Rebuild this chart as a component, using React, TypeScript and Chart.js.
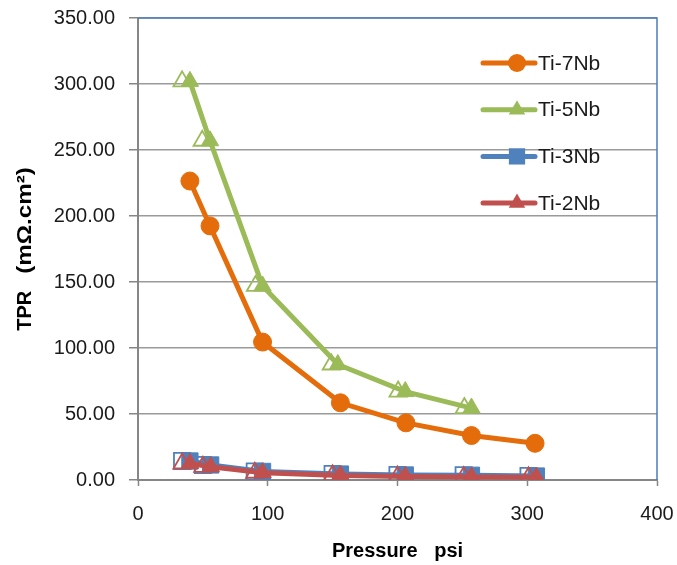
import React, { useEffect, useRef } from 'react';
import { Chart, registerables } from 'chart.js';

Chart.register(...registerables);

const FONT = "'Liberation Sans', Arial, sans-serif";

// ---- data ----
const seriesNames = ['Ti-7Nb', 'Ti-5Nb', 'Ti-3Nb', 'Ti-2Nb'];

const ti7NbPressure = [40, 55.5, 96, 156, 206.5, 257, 306];
const ti7NbTPR = [226.5, 192.5, 104.5, 58.5, 43.3, 33.7, 27.8];

const ti5NbPressure = [40, 55.5, 96, 154, 206, 257];
const ti5NbTPR = [302, 257, 147, 87.5, 67, 54.5];
const ti5NbOpenPressure = [34, 49.5, 90.5, 149, 200.5, 251.5];
const ti5NbOpenTPR = [302, 257, 147, 87.5, 67, 54.5];

const ti3NbPressure = [40, 56, 96, 156, 206, 257, 307];
const ti3NbTPR = [14.4, 11.4, 6.5, 4.5, 3.8, 3.6, 3.0];
const ti3NbOpenPressure = [34, 50, 90, 150, 200, 251, 301];
const ti3NbOpenTPR = [14.4, 11.4, 6.5, 4.5, 3.8, 3.6, 3.0];

const ti2NbPressure = [40, 56, 96, 156, 206, 257, 307];
const ti2NbTPR = [12.5, 10, 5.5, 3.5, 2.6, 2.3, 2.0];
const ti2NbOpenPressure = [34, 50, 90, 150, 200, 251, 301];
const ti2NbOpenTPR = [12.5, 10, 5.5, 3.5, 2.6, 2.3, 2.0];

const xTickValues = [0, 100, 200, 300, 400];
const yTickValues = [0, 50, 100, 150, 200, 250, 300, 350];

const xTitle = 'Pressure   psi';
const yTitleMain = 'TPR';
const yTitleUnit = '(mΩ.cm²)';

const ORANGE = '#E46C0A';
const GREEN = '#9BBB59';
const BLUE = '#4F81BD';
const RED = '#C0504D';

function pts(xs: number[], ys: number[]) {
  return xs.map((x, i) => ({ x, y: ys[i] }));
}

function drawMarker(ctx: CanvasRenderingContext2D, style: string, x: number, y: number, r: number, color: string) {
  ctx.beginPath();
  if (style === 'circle') {
    ctx.arc(x, y, r, 0, Math.PI * 2);
  } else if (style === 'triangle') {
    for (let k = 0; k < 3; k++) {
      const a = -Math.PI / 2 + (k * 2 * Math.PI) / 3;
      const px = x + Math.cos(a) * r;
      const py = y + Math.sin(a) * r;
      if (k === 0) ctx.moveTo(px, py);
      else ctx.lineTo(px, py);
    }
    ctx.closePath();
  } else {
    const s = r * Math.SQRT1_2;
    ctx.rect(x - s, y - s, 2 * s, 2 * s);
  }
  ctx.fillStyle = color;
  ctx.fill();
}

const insideLegend = {
  id: 'insideLegend',
  afterDatasetsDraw(chart: any) {
    const { ctx, chartArea } = chart;
    const items = chart.data.datasets.filter((d: any) => d.legendLabel);
    items.forEach((ds: any, i: number) => {
      const y = chartArea.top + 45 + i * 46.7;
      const x0 = chartArea.right - 174;
      const x1 = chartArea.right - 122;
      const mx = chartArea.right - 140;
      ctx.save();
      ctx.strokeStyle = ds.borderColor;
      ctx.lineWidth = 5;
      ctx.lineCap = 'round';
      ctx.beginPath();
      ctx.moveTo(x0, y);
      ctx.lineTo(x1, y);
      ctx.stroke();
      drawMarker(ctx, ds.pointStyle, mx, y, ds.legendMarker, ds.pointBackgroundColor);
      ctx.fillStyle = '#1a1a1a';
      ctx.font = `21px ${FONT}`;
      ctx.textAlign = 'left';
      ctx.textBaseline = 'middle';
      ctx.fillText(ds.legendLabel, chartArea.right - 119, y + 1);
      ctx.restore();
    });
  },
};

const plotBorder = {
  id: 'plotBorder',
  afterDraw(chart: any) {
    const { ctx, chartArea } = chart;
    ctx.save();
    ctx.strokeStyle = '#4A7EBB';
    ctx.lineWidth = 1.5;
    ctx.beginPath();
    ctx.moveTo(chartArea.left, chartArea.top);
    ctx.lineTo(chartArea.right, chartArea.top);
    ctx.lineTo(chartArea.right, chartArea.bottom);
    ctx.stroke();
    ctx.restore();
  },
};

const yAxisTitle = {
  id: 'yAxisTitle',
  afterDraw(chart: any) {
    const { ctx, chartArea } = chart;
    const cy = (chartArea.top + chartArea.bottom) / 2;
    ctx.save();
    ctx.translate(31, cy);
    ctx.rotate(-Math.PI / 2);
    ctx.fillStyle = '#000';
    ctx.textBaseline = 'alphabetic';
    ctx.textAlign = 'left';
    ctx.font = `bold 20px ${FONT}`;
    const w1 = ctx.measureText(yTitleMain).width;
    ctx.font = `bold 21px ${FONT}`;
    const sx = 1.15;
    const w2 = ctx.measureText(yTitleUnit).width * sx;
    const gap = 17;
    const total = w1 + gap + w2;
    const start = -total / 2;
    ctx.font = `bold 20px ${FONT}`;
    ctx.fillText(yTitleMain, start, 0);
    ctx.font = `bold 21px ${FONT}`;
    ctx.translate(start + w1 + gap, 0);
    ctx.scale(sx, 1);
    ctx.fillText(yTitleUnit, 0, 0);
    ctx.restore();
  },
};

export default function App() {
  const ref = useRef<HTMLCanvasElement | null>(null);

  useEffect(() => {
    if (!ref.current) return;
    const mainLine = (label: string, xs: number[], ys: number[], color: string, style: string, r: number, order: number, legendMarker: number) => ({
      label,
      legendLabel: label,
      legendMarker,
      data: pts(xs, ys),
      showLine: true,
      borderColor: color,
      backgroundColor: color,
      borderWidth: 5,
      pointStyle: style,
      pointRadius: r,
      pointBackgroundColor: color,
      pointBorderColor: color,
      pointBorderWidth: 1,
      order,
    });
    const openSet = (label: string, xs: number[], ys: number[], color: string, style: string, r: number, order: number) => ({
      label,
      data: pts(xs, ys),
      showLine: false,
      borderColor: color,
      backgroundColor: 'rgba(0,0,0,0)',
      pointStyle: style,
      pointRadius: r,
      pointBackgroundColor: 'rgba(0,0,0,0)',
      pointBorderColor: color,
      pointBorderWidth: 1.8,
      order,
    });

    const chart = new Chart(ref.current, {
      type: 'scatter',
      data: {
        datasets: [
          mainLine(seriesNames[0], ti7NbPressure, ti7NbTPR, ORANGE, 'circle', 9, 6, 9),
          mainLine(seriesNames[1], ti5NbPressure, ti5NbTPR, GREEN, 'triangle', 10, 4, 9.5),
          mainLine(seriesNames[2], ti3NbPressure, ti3NbTPR, BLUE, 'rect', 11.5, 2, 11.5),
          mainLine(seriesNames[3], ti2NbPressure, ti2NbTPR, RED, 'triangle', 10, 0, 9.5),
          openSet(seriesNames[1] + ' open', ti5NbOpenPressure, ti5NbOpenTPR, GREEN, 'triangle', 10, 5),
          openSet(seriesNames[2] + ' open', ti3NbOpenPressure, ti3NbOpenTPR, BLUE, 'rect', 11.5, 3),
          openSet(seriesNames[3] + ' open', ti2NbOpenPressure, ti2NbOpenTPR, RED, 'triangle', 10, 1),
        ] as any,
      },
      options: {
        animation: false,
        responsive: false,
        maintainAspectRatio: false,
        layout: { padding: { top: 18, right: 20, left: 0, bottom: 0 } },
        plugins: {
          legend: { display: false },
          tooltip: { enabled: false },
        },
        scales: {
          x: {
            type: 'linear',
            min: 0,
            max: 400,
            afterFit: (s: any) => { s.height = 85; s.paddingLeft = 0; s.paddingRight = 0; },
            afterBuildTicks: (s: any) => { s.ticks = xTickValues.map((v) => ({ value: v })); },
            ticks: {
              font: { family: FONT, size: 20 },
              color: '#1a1a1a',
              padding: 16,
              callback: (v: any) => String(v),
            },
            grid: {
              drawOnChartArea: false,
              drawTicks: true,
              tickLength: 6,
              tickColor: '#868686',
              tickWidth: 1.5,
            },
            border: { display: true, color: '#868686', width: 2 },
            title: {
              display: true,
              text: xTitle,
              font: { family: FONT, size: 20, weight: 'bold' },
              color: '#000',
              padding: { top: 0, bottom: 2 },
            },
          },
          y: {
            type: 'linear',
            min: 0,
            max: 350,
            afterFit: (s: any) => { s.width = 138; s.paddingTop = 0; s.paddingBottom = 0; },
            afterBuildTicks: (s: any) => { s.ticks = yTickValues.map((v) => ({ value: v })); },
            ticks: {
              font: { family: FONT, size: 20 },
              color: '#1a1a1a',
              padding: 14,
              callback: (v: any) => Number(v).toFixed(2),
            },
            grid: {
              color: '#9a9a9a',
              lineWidth: 1.5,
              drawTicks: true,
              tickLength: 9,
              tickColor: '#868686',
              tickWidth: 1.5,
            },
            border: { display: true, color: '#868686', width: 2 },
            title: { display: false },
          },
        },
      } as any,
      plugins: [insideLegend, plotBorder, yAxisTitle],
    });
    return () => chart.destroy();
  }, []);

  return (
    <div style={{ position: 'absolute', left: 0, top: 0, width: 677, height: 565, background: '#fff' }}>
      <canvas ref={ref} width={677} height={565} style={{ width: 677, height: 565, display: 'block' }} />
    </div>
  );
}
